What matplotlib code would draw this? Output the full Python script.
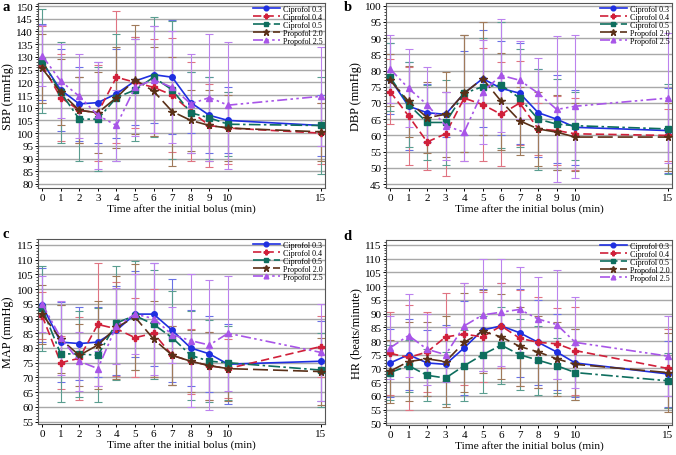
import matplotlib
matplotlib.use("Agg")
import matplotlib.pyplot as plt
from matplotlib.ticker import MultipleLocator

plt.rcParams["font.family"] = ["Liberation Serif", "DejaVu Serif"]

# ==============================
# DADOS
# ==============================
tempo = [0, 1, 2, 3, 4, 5, 6, 7, 8, 9, 10, 15]
grupos = ["Ciprofol 0.3", "Ciprofol 0.4", "Ciprofol 0.5", "Propofol 2.0", "Propofol 2.5"]

# SBP (a)
sbp_c03 = [128, 117, 111.5, 112, 115.5, 120.5, 123, 122, 112, 107, 105, 103]
sbp_c04 = [127, 114, 109, 108, 122, 120, 118, 115, 108.5, 103, 102, 100]
sbp_c05 = [128.5, 116, 105.5, 105.5, 114, 117, 122, 117, 108, 106, 103.5, 103]
sbp_p20 = [125.5, 116, 109, 108, 114, 121, 116.5, 108.5, 105, 103, 102, 100.5]
sbp_p25 = [130.5, 120.5, 114.5, 107, 103, 118, 121, 118, 111.5, 114, 111, 114.5]
sbp_sd_c03 = [15, 16, 14.5, 16, 17.5, 17.5, 19, 22.5, 12, 15, 13, 12]
sbp_sd_c04 = [15, 17, 13, 19, 26, 18, 19, 22.5, 19.5, 16.5, 14, 12]
sbp_sd_c05 = [20.5, 20, 16.5, 20.5, 25, 20, 23.5, 27, 16, 16, 12.5, 19]
sbp_sd_p20 = [13.5, 13, 13, 16, 20, 21.5, 17.5, 21.5, 12, 14, 13, 11.5]
sbp_sd_p25 = [12, 14.5, 16.5, 21, 14, 19, 21, 22, 19.5, 25, 25, 19.5]

# DBP (b)
dbp_c03 = [77.5, 69, 67, 66.5, 73, 77.5, 74.5, 73, 67, 65, 62.5, 61.5]
dbp_c04 = [73.5, 66, 58, 60.5, 71.5, 69.5, 66.5, 70, 62, 61.5, 60.5, 60]
dbp_c05 = [78, 69.5, 64, 64, 73, 75, 75.5, 71.5, 65, 63.5, 63, 62]
dbp_p20 = [77, 70.5, 65.5, 66.5, 73, 77.5, 70.5, 64.5, 62, 61, 59.5, 59.5]
dbp_p25 = [80.5, 74.5, 69.5, 63, 61, 73.5, 78.5, 77, 73, 68, 69, 71.5]
dbp_sd_c03 = [11, 13.5, 9, 7, 13, 15, 14.5, 15.5, 13.5, 13.5, 11.5, 13]
dbp_sd_c04 = [10, 15, 8.5, 13, 19.5, 17.5, 16, 13, 8, 10.5, 11, 8]
dbp_sd_c05 = [10.5, 13, 11.5, 13, 18, 15, 19.5, 15, 15.5, 14, 10.5, 14]
dbp_sd_p20 = [8, 11, 11, 13, 18, 17.5, 15, 10.5, 11.5, 11.5, 10.5, 10.5]
dbp_sd_p25 = [10.5, 12, 11.5, 10.5, 9, 16, 17.5, 12, 11, 22.5, 22, 20]

# MAP (c)
map_c03 = [94.5, 82, 81.5, 82, 86, 91.5, 91.5, 86, 80, 78, 74.5, 75.5]
map_c04 = [91, 75, 76.5, 88, 86.5, 83.5, 85, 77.5, 75.5, 74, 73, 80.5]
map_c05 = [93.5, 78, 78, 77.5, 88.5, 91, 88, 83.5, 77.5, 75.5, 75, 72.5]
map_p20 = [91.5, 83, 77.5, 81, 87, 90.5, 83, 77.5, 75.5, 74, 73, 72]
map_p25 = [95, 83.5, 75.5, 73, 87.5, 91.5, 90, 84.5, 82.5, 81, 85, 78.5]
map_sd_c03 = [12.5, 13.5, 12.5, 12, 15, 14.5, 17.5, 17.5, 13, 13, 13.5, 13.5]
map_sd_c04 = [8, 9, 14, 21, 16, 13.5, 15, 10, 11, 11.5, 10, 10.5]
map_sd_c05 = [14.5, 16.5, 14.5, 16, 19.5, 18.5, 18.5, 16, 15, 14, 12.5, 12.5]
map_sd_p20 = [10, 11.5, 10.5, 15, 17.5, 18, 13, 10, 10.5, 11.5, 11, 11.5]
map_sd_p25 = [9.5, 12.5, 10, 6, 13, 13.5, 19, 9.5, 22.5, 22, 19.5, 16.5]

# HR (d)
hr_c03 = [72, 75, 72, 71.5, 77.5, 84, 85.5, 83, 79.5, 76, 72, 68]
hr_c04 = [75.5, 74, 76, 81.5, 82.5, 81.5, 85.5, 81, 79.5, 79, 76.5, 70]
hr_c05 = [68.5, 71, 67.5, 66.5, 71, 75, 78.5, 75, 73, 71, 68.5, 65.5]
hr_p20 = [69, 72.5, 73.5, 72.5, 79.5, 83.5, 81.5, 78, 76, 73.5, 71.5, 68.5]
hr_p25 = [77.5, 82, 77, 75, 85.5, 89.5, 90.5, 91.5, 88, 86, 79.5, 74.5]
hr_sd_c03 = [12.5, 13, 12, 14.5, 17, 15, 15.5, 16, 15.5, 14, 12.5, 12]
hr_sd_c04 = [15, 19, 14.5, 16, 18.5, 16.5, 15.5, 17.5, 16.5, 13, 16, 14.5]
hr_sd_c05 = [10, 9.5, 9.5, 9.5, 13, 14, 14, 13, 12.5, 10, 10, 10]
hr_sd_p20 = [11.5, 14.5, 13.5, 16.5, 18, 15, 15.5, 14.5, 13, 13.5, 13, 14.5]
hr_sd_p25 = [11.5, 15, 13, 10, 15.5, 20.5, 19.5, 15.5, 15.5, 20, 16.5, 14.5]

# ==============================
# ESTILOS
# ==============================
cores = ["#1f2fe0", "#d0203a", "#0e6e5e", "#5a3018", "#a855e8"]
cores_barra = ["#6a72e6", "#e07482", "#5a9e90", "#a07a5a", "#bc82ee"]
marcadores = ["o", "P", "s", "*", "^"]
tracos = ["-", (0, (5, 2.5)), (0, (7, 2, 1.5, 2)), (0, (9, 3)), (0, (6, 2, 1.5, 2, 1.5, 2))]


def desenhar(ax, medias, sds, ylabel, ylim, letra, pos_letra):
    for i, (m, s) in enumerate(zip(medias, sds)):
        ax.errorbar(tempo, m, yerr=s, fmt="none", ecolor=cores_barra[i],
                    elinewidth=0.8, capsize=2.8, capthick=0.8, zorder=2)
    for i, m in enumerate(medias):
        ax.plot(tempo, m, color=cores[i], linestyle=tracos[i], marker=marcadores[i],
                markersize=4 if marcadores[i] != "*" else 5.5, linewidth=1.2,
                label=grupos[i], zorder=3)
    ax.set_xlim(-0.22, 15.22)
    ax.set_ylim(*ylim)
    ax.set_xticks([0, 1, 2, 3, 4, 5, 6, 7, 8, 9, 10, 15])
    ax.yaxis.set_major_locator(MultipleLocator(5))
    ax.yaxis.set_minor_locator(MultipleLocator(1))
    ax.tick_params(axis="both", labelsize=8, length=2.5, pad=1, width=0.7)
    ax.tick_params(axis="y", which="minor", length=1.3, width=0.5)
    ax.grid(axis="y", which="major", color="#a8a8a8", linewidth=1.0, zorder=0)
    ax.set_axisbelow(True)
    ax.set_ylabel(ylabel, fontsize=8.8, labelpad=1.5)
    ax.set_xlabel("Time after the initial bolus (min)", fontsize=8.2, labelpad=1)
    for sp in ax.spines.values():
        sp.set_color("#555555")
        sp.set_linewidth(0.8)
    ax.legend(loc="upper right", fontsize=5.8, frameon=False, handlelength=3.4,
              labelspacing=0.0, borderpad=0.15, handletextpad=0.4,
              borderaxespad=0.1, markerscale=0.85)
    fig.text(pos_letra[0], pos_letra[1], letra, fontsize=10.5,
             fontweight="bold", va="top", ha="left")


fig = plt.figure(figsize=(6.76, 4.56), dpi=100)
ax_a = fig.add_axes([0.0562, 0.5855, 0.4246, 0.4057])
ax_b = fig.add_axes([0.571, 0.5855, 0.423, 0.4057])
ax_c = fig.add_axes([0.0562, 0.068, 0.4246, 0.4057])
ax_d = fig.add_axes([0.571, 0.0658, 0.423, 0.4057])

desenhar(ax_a, [sbp_c03, sbp_c04, sbp_c05, sbp_p20, sbp_p25],
         [sbp_sd_c03, sbp_sd_c04, sbp_sd_c05, sbp_sd_p20, sbp_sd_p25],
         "SBP (mmHg)", (78.4, 151.2), "a", (0.004, 0.998))
desenhar(ax_b, [dbp_c03, dbp_c04, dbp_c05, dbp_p20, dbp_p25],
         [dbp_sd_c03, dbp_sd_c04, dbp_sd_c05, dbp_sd_p20, dbp_sd_p25],
         "DBP (mmHg)", (43.8, 100.8), "b", (0.508, 0.998))
desenhar(ax_c, [map_c03, map_c04, map_c05, map_p20, map_p25],
         [map_sd_c03, map_sd_c04, map_sd_c05, map_sd_p20, map_sd_p25],
         "MAP (mmHg)", (54.2, 117), "c", (0.004, 0.5))
desenhar(ax_d, [hr_c03, hr_c04, hr_c05, hr_p20, hr_p25],
         [hr_sd_c03, hr_sd_c04, hr_sd_c05, hr_sd_p20, hr_sd_p25],
         "HR (beats/minute)", (49.4, 116.8), "d", (0.508, 0.495))

fig.savefig("out.png", dpi=100)
